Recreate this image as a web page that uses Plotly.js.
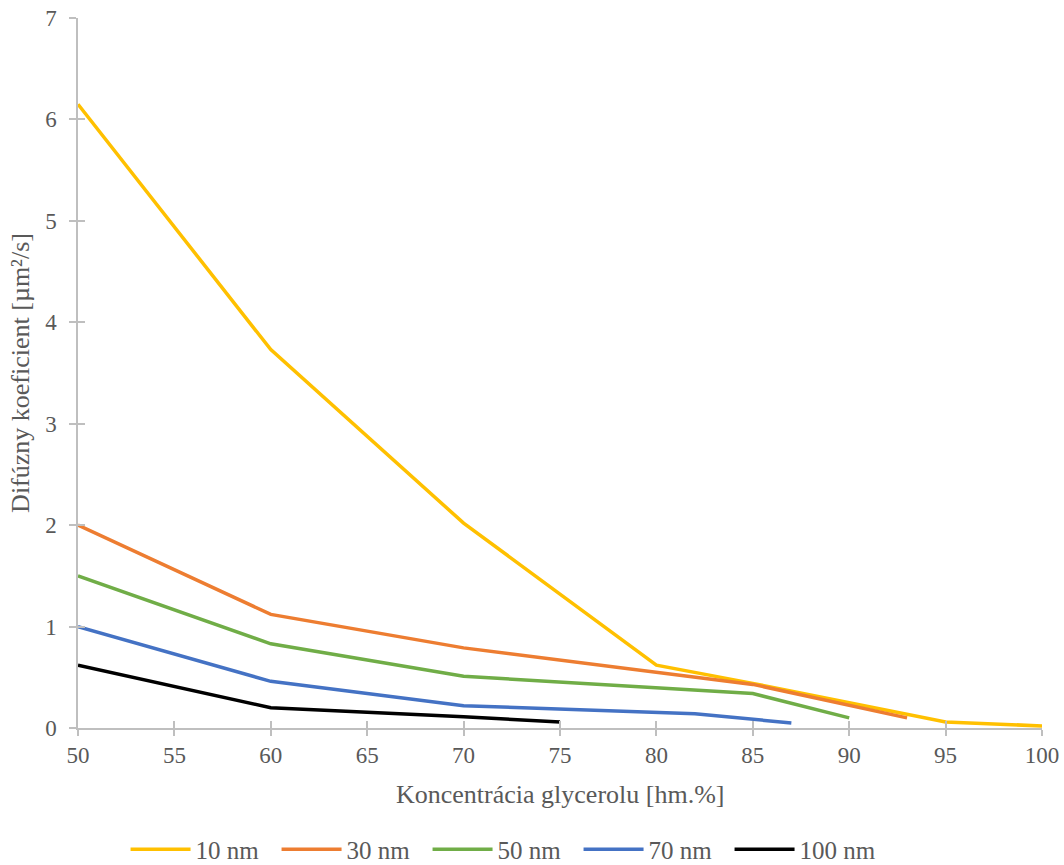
<!DOCTYPE html>
<html>
<head>
<meta charset="utf-8">
<script src="https://cdn.plot.ly/plotly-3.0.1.min.js"></script>
<style>html,body{margin:0;padding:0;background:#fff;}#chart{width:1064px;height:865px;}</style>
</head>
<body>
<div id="chart"></div>
<script>
const seriesNames = ["10 nm", "30 nm", "50 nm", "70 nm", "100 nm"];
const seriesColors = ["#FFC000", "#ED7D31", "#70AD47", "#4472C4", "#000000"];

const x10 = [50, 60, 70, 80, 85, 95, 100];
const y10 = [6.15, 3.73, 2.02, 0.62, 0.44, 0.06, 0.02];

const x30 = [50, 60, 70, 85, 93];
const y30 = [2.0, 1.12, 0.79, 0.43, 0.10];

const x50 = [50, 60, 70, 85, 90];
const y50 = [1.5, 0.83, 0.51, 0.34, 0.10];

const x70 = [50, 60, 70, 82, 87];
const y70 = [1.0, 0.46, 0.22, 0.14, 0.05];

const x100 = [50, 60, 70, 75];
const y100 = [0.62, 0.20, 0.11, 0.06];

const xs = [x10, x30, x50, x70, x100];
const ys = [y10, y30, y50, y70, y100];

const xRange = [50, 100];
const yRange = [0, 7];
const xTitle = "Koncentrácia glycerolu [hm.%]";
const yTitle = "Difúzny koeficient [µm²/s]";

const traces = seriesNames.map((n, i) => ({
  type: "scatter",
  mode: "lines",
  name: n,
  x: xs[i],
  y: ys[i],
  line: {color: seriesColors[i], width: 3.5},
  hoverinfo: "x+y+name"
}));
// empty helper trace so the overlay axes (inner half of the cross ticks) are drawn
traces.push({type: "scatter", mode: "lines", x: [], y: [], xaxis: "x2", yaxis: "y2", showlegend: false, hoverinfo: "skip"});

const font = {family: "Liberation Serif, Times New Roman, serif", color: "#595959"};
const axisColor = "#BFBFBF";

const layout = {
  width: 1064,
  height: 865,
  margin: {l: 78, r: 22, t: 18, b: 137, autoexpand: false},
  paper_bgcolor: "#ffffff",
  plot_bgcolor: "rgba(0,0,0,0)",
  font: Object.assign({size: 23}, font),
  showlegend: true,
  legend: {
    orientation: "h",
    x: 0.118,
    xref: "container",
    xanchor: "left",
    y: 0.018,
    yref: "container",
    yanchor: "middle",
    font: Object.assign({size: 25}, font),
    itemwidth: 60,
    entrywidth: 76,
    entrywidthmode: "pixels",
    tracegroupgap: 0
  },
  annotations: [{
    text: xTitle,
    xref: "paper", yref: "paper",
    x: 0.5, y: -0.094,
    xanchor: "center", yanchor: "middle",
    showarrow: false,
    font: Object.assign({size: 26}, font)
  }],
  xaxis: {
    range: xRange,
    dtick: 5,
    tick0: 50,
    showgrid: false,
    zeroline: false,
    showline: true,
    linecolor: axisColor,
    linewidth: 1.5,
    ticks: "outside",
    ticklen: 6,
    tickcolor: axisColor,
    tickwidth: 1.5,
    tickfont: Object.assign({size: 23}, font)
  },
  yaxis: {
    range: yRange,
    dtick: 1,
    showgrid: false,
    zeroline: false,
    showline: true,
    linecolor: axisColor,
    linewidth: 1.5,
    ticks: "outside",
    ticklen: 7,
    tickcolor: axisColor,
    tickwidth: 1.5,
    ticklabelstandoff: 8,
    tickfont: Object.assign({size: 23}, font),
    title: {text: yTitle, font: Object.assign({size: 26}, font), standoff: 8}
  },
  xaxis2: {
    range: xRange,
    dtick: 5,
    tick0: 50,
    overlaying: "x",
    anchor: "y2",
    showgrid: false,
    zeroline: false,
    showline: false,
    showticklabels: false,
    ticks: "inside",
    ticklen: 7,
    tickcolor: axisColor,
    tickwidth: 1.5
  },
  yaxis2: {
    range: yRange,
    dtick: 1,
    overlaying: "y",
    anchor: "x2",
    showgrid: false,
    zeroline: false,
    showline: false,
    showticklabels: false,
    ticks: "inside",
    ticklen: 7,
    tickcolor: axisColor,
    tickwidth: 1.5
  }
};

Plotly.newPlot("chart", traces, layout, {displayModeBar: false});
</script>
</body>
</html>
